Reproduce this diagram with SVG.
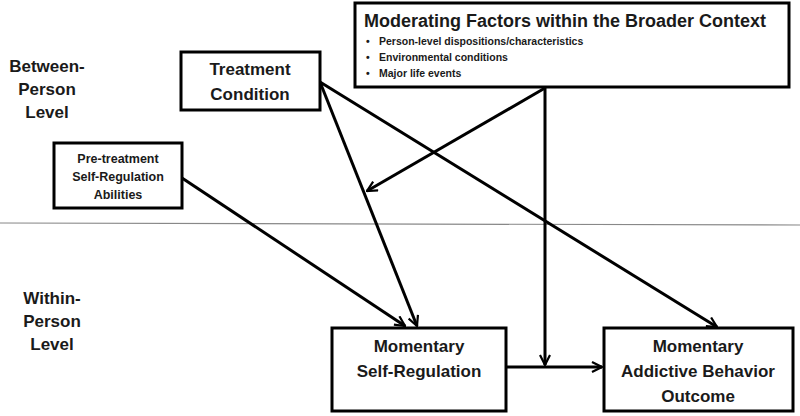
<svg xmlns="http://www.w3.org/2000/svg" width="800" height="416" viewBox="0 0 800 416">
<defs>
<marker id="ah" viewBox="0 0 12 12" refX="11" refY="6" markerWidth="12" markerHeight="12" markerUnits="userSpaceOnUse" orient="auto">
<polyline points="1,1 11,6 1,11" fill="none" stroke="#000" stroke-width="2.2"/>
</marker>
<style>
.box{fill:#fff;stroke:#000;stroke-width:3}
.t{font-family:"Liberation Sans",Arial,sans-serif;font-weight:bold;fill:#1a1a1a;text-anchor:middle}
.l{font-family:"Liberation Sans",Arial,sans-serif;font-weight:bold;fill:#1a1a1a}
.c{stroke:#000;stroke-width:3;fill:none;marker-end:url(#ah)}
</style>
</defs>
<rect width="800" height="416" fill="#fff"/>
<line x1="0" y1="223" x2="800" y2="225" stroke="#888" stroke-width="1.2"/>
<g id="level-labels">
<text class="t" x="47" y="72" font-size="17">Between-</text>
<text class="t" x="47" y="95" font-size="17">Person</text>
<text class="t" x="47" y="118" font-size="17">Level</text>
<text class="t" x="52" y="304" font-size="17">Within-</text>
<text class="t" x="52" y="327" font-size="17">Person</text>
<text class="t" x="52" y="350" font-size="17">Level</text>
</g>
<g id="connectors">
<line class="c" x1="320" y1="82" x2="717" y2="327"/>
<line class="c" x1="320" y1="82" x2="417" y2="326"/>
<line class="c" x1="182" y1="178" x2="405" y2="326"/>
<line class="c" x1="545" y1="88" x2="367" y2="191"/>
<line class="c" x1="545" y1="88" x2="545" y2="365"/>
<line class="c" x1="506" y1="367" x2="602" y2="367"/>
</g>
<g id="moderators">
<rect class="box" x="355" y="3" width="434" height="84"/>
<text class="l" x="364" y="27" font-size="17.5" textLength="402" lengthAdjust="spacingAndGlyphs">Moderating Factors within the Broader Context</text>
<text class="l" x="366" y="45" font-size="10.5">•</text>
<text class="l" x="379" y="45" font-size="10.5">Person-level dispositions/characteristics</text>
<text class="l" x="366" y="61" font-size="10.5">•</text>
<text class="l" x="379" y="61" font-size="10.5">Environmental conditions</text>
<text class="l" x="366" y="77" font-size="10.5">•</text>
<text class="l" x="379" y="77" font-size="10.5">Major life events</text>
</g>
<g id="treatment">
<rect class="box" x="181" y="52" width="139" height="58"/>
<text class="t" x="250" y="75" font-size="17">Treatment</text>
<text class="t" x="250" y="100" font-size="17">Condition</text>
</g>
<g id="pretreatment">
<rect class="box" x="54" y="143" width="128" height="65"/>
<text class="t" x="118" y="163" font-size="12.5">Pre-treatment</text>
<text class="t" x="118" y="181" font-size="12.5">Self-Regulation</text>
<text class="t" x="118" y="199" font-size="12.5">Abilities</text>
</g>
<g id="self-regulation">
<rect class="box" x="332" y="328" width="174" height="83"/>
<text class="t" x="419" y="352" font-size="17">Momentary</text>
<text class="t" x="419" y="377" font-size="17">Self-Regulation</text>
</g>
<g id="outcome">
<rect class="box" x="604" y="328" width="189" height="83"/>
<text class="t" x="698" y="352" font-size="17">Momentary</text>
<text class="t" x="698" y="377" font-size="17">Addictive Behavior</text>
<text class="t" x="698" y="402" font-size="17">Outcome</text>
</g>
</svg>
